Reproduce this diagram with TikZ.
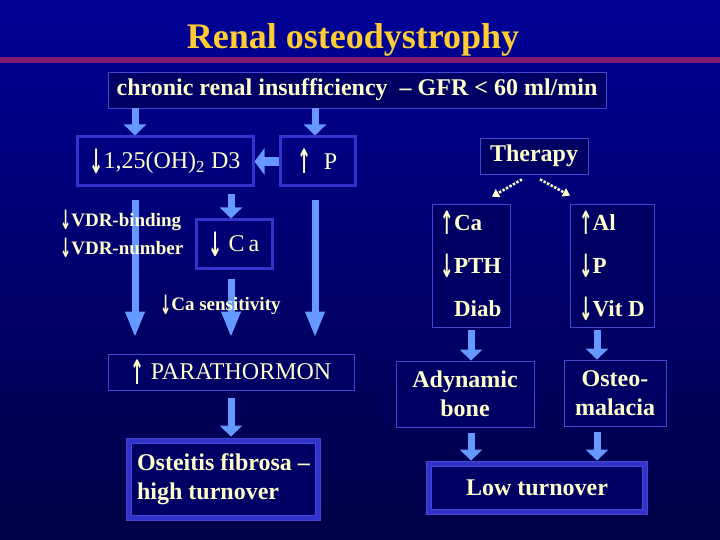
\documentclass[tikz,border=0pt]{standalone}
\usepackage{fontspec}
\setmainfont{Liberation Serif}
\newfontfamily\arrfont{DejaVu Sans}
\usetikzlibrary{arrows.meta,calc}
\definecolor{bgtop}{RGB}{0,0,150}
\definecolor{bgbot}{RGB}{0,0,70}
\definecolor{gold}{RGB}{255,204,51}
\definecolor{plum}{RGB}{125,25,110}
\definecolor{cream}{RGB}{255,255,204}
\definecolor{navy}{RGB}{0,0,100}
\definecolor{edge}{RGB}{70,70,210}
\definecolor{band}{RGB}{51,51,204}
\definecolor{arrblue}{RGB}{102,153,255}
\newcommand\arrdn{\raisebox{-0.4ex}{\scalebox{0.7}[1.4]{\arrfont\bfseries ↓}}}
\newcommand\arrup{\raisebox{-0.4ex}{\scalebox{0.7}[1.4]{\arrfont\bfseries ↑}}}
\tikzstyle{lbox}=[rectangle,draw=edge,line width=0.8pt,fill=navy,text=cream,inner sep=0pt,align=center,font=\fontsize{24}{29}\selectfont\bfseries]
\tikzstyle{hbox}=[rectangle,draw=band,line width=3pt,text=cream,inner sep=0pt,align=center,font=\fontsize{24}{29}\selectfont]
\tikzstyle{dbox}=[rectangle,draw=edge,double=band,double distance=4pt,line width=0.8pt,fill=navy,text=cream,inner sep=0pt,align=left,font=\fontsize{24}{29}\selectfont\bfseries]
\tikzstyle{blk}=[draw=arrblue,line width=7pt,-{Triangle[width=22pt,length=11pt]}]
\tikzstyle{lng}=[draw=arrblue,line width=7pt,-{Triangle[width=18pt,length=26pt]}]
\tikzstyle{dots}=[draw=cream,line width=2.5pt,dash pattern=on 2.5pt off 1.5pt,-{Triangle[width=9pt,length=7pt]}]
\tikzstyle{note}=[text=cream,inner sep=0pt,align=left,font=\fontsize{19}{28}\selectfont\bfseries]

\begin{document}
\begin{tikzpicture}[x=1pt,y=-1pt]
\shade[top color=bgtop,bottom color=bgbot] (0,0) rectangle (720,540);
\useasboundingbox (0,0) rectangle (720,540);
\node[text=gold,inner sep=0pt,anchor=base,font=\fontsize{36}{40}\selectfont\bfseries] (title) at (353,49) {Renal osteodystrophy};
\fill[plum] (0,57) rectangle (720,63);

% left half
\node[lbox,minimum width=498pt,minimum height=36pt] (crf) at (357,90) {chronic renal insufficiency \ -- GFR < 60 ml/min};
\node[hbox,minimum width=176pt,minimum height=49pt] (d3) at (165,161.5) {\arrdn1,25(OH)\textsubscript{2} D3};
\node[hbox,minimum width=75pt,minimum height=49pt] (pp) at (317.5,161.5) {\arrup\ \ P};
\node[hbox,minimum width=76pt,minimum height=48pt] (ca) at (234,244) {\arrdn\ C\,a};
\node[lbox,font=\fontsize{24}{29}\selectfont,minimum width=246pt,minimum height=36pt] (pth) at (231,372) {\arrup\ PARATHORMON};
\node[dbox,minimum width=189pt,minimum height=77pt] (ost) at (223.5,479.5) {Osteitis fibrosa --\\high turnover};

% right half
\node[lbox,minimum width=108pt,minimum height=36pt] (ther) at (534,156) {Therapy};
\node[lbox,minimum width=78pt,minimum height=123pt,align=left,font=\fontsize{23}{43}\selectfont\bfseries] (tl) at (471,265.5) {\arrup Ca\\\arrdn PTH\\\phantom{\arrdn}Diab};
\node[lbox,minimum width=84pt,minimum height=123pt,align=left,font=\fontsize{23}{43}\selectfont\bfseries] (tr) at (612,265.5) {\arrup Al\\\arrdn P\\\arrdn Vit D};
\node[lbox,minimum width=138pt,minimum height=66pt] (ady) at (465,394) {Adynamic\\bone};
\node[lbox,minimum width=102pt,minimum height=66pt] (oma) at (615,393) {Osteo-\\malacia};
\node[dbox,align=center,minimum width=216pt,minimum height=48pt] (low) at (537,488) {Low turnover};

\coordinate (xa) at (135,0);
\coordinate (xb) at (231,0);
\coordinate (xc) at (315,0);
\coordinate (xl) at (471,0);
\coordinate (xr) at (597,0);

\draw[blk] (crf.south -| xa) -- (d3.north -| xa);
\draw[blk] (crf.south -| xc) -- (pp.north -| xc);
\draw[blk,line width=9pt,-{Triangle[width=26pt,length=10pt]}] (pp.west) -- (d3.east);
\draw[blk,shorten <=7pt] (d3.south -| xb) -- (ca.north -| xb);
\draw[lng,shorten <=13pt,shorten >=16pt] (d3.south -| xa) -- (pth.north -| xa);
\draw[lng,shorten <=9pt,shorten >=16pt] (ca.south -| xb) -- (pth.north -| xb);
\draw[lng,shorten <=13pt,shorten >=16pt] (pp.south -| xc) -- (pth.north -| xc);
\draw[blk,shorten <=8pt,shorten >=4pt] (pth.south -| xb) -- (ost.north -| xb);

\draw[dots] ($(ther.south)+(-12,5)$) -- ($(tl.north)+(21,-7)$);
\draw[dots] ($(ther.south)+(6,5)$) -- ($(tr.north)+(-42,-8)$);
\draw[blk,shorten <=3pt] (tl.south -| xl) -- (ady.north -| xl);
\draw[blk,shorten <=3pt] (tr.south -| xr) -- (oma.north -| xr);
\draw[blk,shorten <=6pt,shorten >=3pt] (ady.south -| xl) -- (low.north -| xl);
\draw[blk,shorten <=6pt,shorten >=3pt] (oma.south -| xr) -- (low.north -| xr);

% notes over the arrows
\node[note,anchor=west] (vdr) at (60,234) {\arrdn VDR-binding\\\arrdn VDR-number};
\node[note,anchor=west] (sens) at (160,305) {\arrdn Ca sensitivity};
\end{tikzpicture}
\end{document}
